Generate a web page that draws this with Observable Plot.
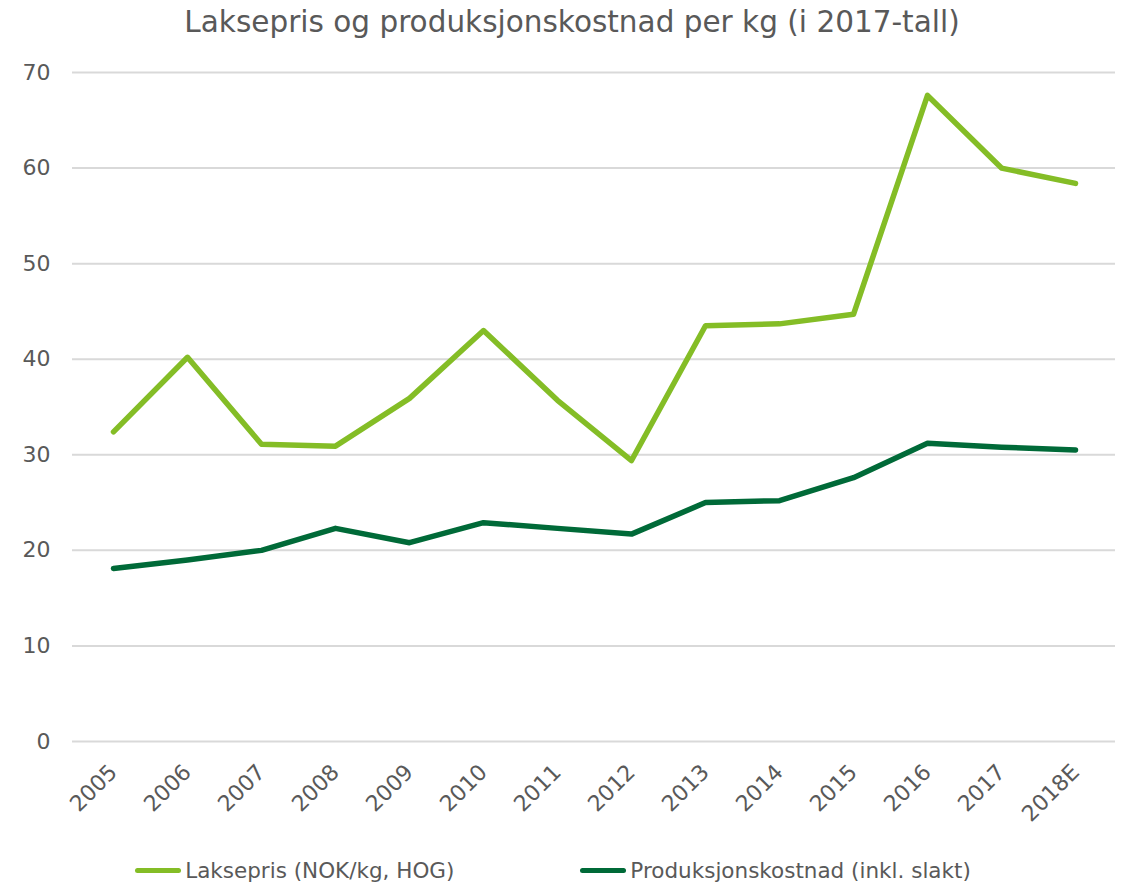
<!DOCTYPE html>
<html>
<head>
<meta charset="utf-8">
<script src="https://cdn.jsdelivr.net/npm/d3@7"></script>
<script src="https://cdn.jsdelivr.net/npm/@observablehq/plot@0.6"></script>
<style>
  body { margin: 0; background: #fff; font-family: "DejaVu Sans", Verdana, sans-serif; color: #595959; }
  #wrap { width: 1122px; height: 886px; position: relative; }
  #title { height: 50px; text-align: center; font-size: 29.5px; line-height: 44px; color: #595959; padding-left: 22px; }
  #legend { position: absolute; top: 858px; left: 0; width: 1106px; display: flex; justify-content: center; gap: 126px; font-size: 21.5px; color: #595959; }
  .item { display: flex; align-items: center; }
  .sw { width: 46px; height: 5px; border-radius: 3px; margin-right: 4px; }
</style>
</head>
<body>
<div id="wrap">
  <div id="title">Laksepris og produksjonskostnad per kg (i 2017-tall)</div>
  <div id="chart"></div>
  <div id="legend"></div>
</div>
<script>
const years = ["2005","2006","2007","2008","2009","2010","2011","2012","2013","2014","2015","2016","2017","2018E"];
const laksepris = [32.4, 40.2, 31.1, 30.9, 35.9, 43.0, 35.7, 29.4, 43.5, 43.7, 44.7, 67.6, 60.0, 58.4];
const kostnad = [18.1, 19.0, 20.0, 22.3, 20.8, 22.9, 22.3, 21.7, 25.0, 25.2, 27.6, 31.2, 30.8, 30.5];
const seriesNames = ["Laksepris (NOK/kg, HOG)", "Produksjonskostnad (inkl. slakt)"];
const seriesColors = ["#84BD26", "#006A38"];
const yTicks = [0, 10, 20, 30, 40, 50, 60, 70];

const data = [];
years.forEach((y, i) => {
  data.push({year: y, value: laksepris[i], series: seriesNames[0]});
  data.push({year: y, value: kostnad[i], series: seriesNames[1]});
});

const chart = Plot.plot({
  width: 1122,
  height: 800,
  marginTop: 22,
  marginBottom: 109,
  marginLeft: 72,
  marginRight: 7,
  style: { fontFamily: '"DejaVu Sans", Verdana, sans-serif', fontSize: "22px", color: "#595959", background: "#fff" },
  x: { type: "point", domain: years, padding: 0.5, label: null },
  y: { domain: [0, 70], label: null },
  color: { domain: seriesNames, range: seriesColors },
  marks: [
    Plot.gridY(yTicks, { stroke: "#D9D9D9", strokeOpacity: 1, strokeWidth: 2 }),
    Plot.axisY(yTicks, { tickSize: 0, tickPadding: 22, label: null, fontSize: 22 }),
    Plot.axisX({ tickSize: 0, tickRotate: -45, tickPadding: 27, label: null, fontSize: 22 }),
    Plot.line(data, { x: "year", y: "value", z: "series", stroke: "series", strokeWidth: 5.5, strokeLinejoin: "round", strokeLinecap: "round" })
  ]
});
document.getElementById("chart").appendChild(chart);

const legend = document.getElementById("legend");
seriesNames.forEach((n, i) => {
  const it = document.createElement("div");
  it.className = "item";
  const sw = document.createElement("div");
  sw.className = "sw";
  sw.style.background = seriesColors[i];
  const t = document.createElement("span");
  t.textContent = n;
  it.appendChild(sw); it.appendChild(t);
  legend.appendChild(it);
});
</script>
</body>
</html>
